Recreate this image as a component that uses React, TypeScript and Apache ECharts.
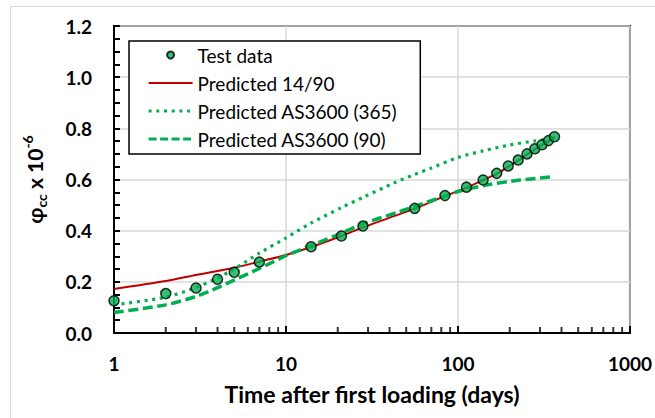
import React, { useEffect, useRef } from "react";
import * as echarts from "echarts";

const testDays = [1, 2, 3, 4, 5, 7, 14, 21, 28, 56, 84, 112, 140, 168, 196, 224, 252, 280, 308, 336, 364];
const testValues = [0.126, 0.154, 0.176, 0.21, 0.237, 0.277, 0.337, 0.379, 0.418, 0.487, 0.537, 0.57, 0.598, 0.624, 0.653, 0.676, 0.7, 0.72, 0.736, 0.752, 0.767];

const pred1490Days = [1, 2, 3, 5, 7, 10, 14, 21, 28, 56, 84, 112, 140, 168, 196, 224, 252, 280, 308, 336, 365];
const pred1490Values = [0.172, 0.203, 0.227, 0.255, 0.279, 0.305, 0.336, 0.379, 0.413, 0.486, 0.535, 0.568, 0.598, 0.622, 0.65, 0.674, 0.698, 0.718, 0.735, 0.75, 0.767];

const pred365Days = [1, 2, 3, 4, 5, 7, 10, 14, 21, 28, 42, 56, 70, 100, 140, 200, 280, 365];
const pred365Values = [0.11, 0.14, 0.178, 0.215, 0.25, 0.312, 0.372, 0.43, 0.49, 0.53, 0.585, 0.62, 0.645, 0.686, 0.712, 0.735, 0.751, 0.76];

const pred90Days = [1, 2, 3, 4, 5, 7, 10, 14, 21, 28, 46, 56, 84, 100, 146, 229, 365];
const pred90Values = [0.08, 0.11, 0.143, 0.177, 0.207, 0.252, 0.302, 0.342, 0.39, 0.427, 0.475, 0.495, 0.535, 0.553, 0.578, 0.598, 0.611];

const minorTickDays = [2, 3, 4, 5, 6, 7, 8, 9, 20, 30, 40, 50, 60, 70, 80, 90, 200, 300, 400, 500, 600, 700, 800, 900];

const seriesNames = ["Test data", "Predicted 14/90", "Predicted AS3600 (365)", "Predicted AS3600 (90)"];

const zip = (xs: number[], ys: number[]) => xs.map((x, i) => [x, ys[i]]);

const FONT = "Lato, 'Liberation Sans', sans-serif";
const GREEN = "#00b050";
const RED = "#c00000";
const DOTTED: number[] = [3, 4.7];
const DASHED: number[] = [10, 4.5];

export default function App() {
  const ref = useRef<HTMLDivElement>(null);
  useEffect(() => {
    if (!ref.current) return;
    const chart = echarts.init(ref.current, undefined, { renderer: "svg" });
    chart.setOption({
      animation: false,
      backgroundColor: "#ffffff",
      graphic: [
        {
          type: "rect",
          shape: { x: 10.5, y: 6.5, width: 700, height: 500 },
          style: { fill: "none", stroke: "#d9d9d9", lineWidth: 1 },
          z: -10,
        },
      ],
      grid: { left: 114, right: 21, top: 26, bottom: 85, show: true, borderColor: "#000", borderWidth: 2, backgroundColor: "transparent" },
      legend: {
        data: [
          { name: seriesNames[0] },
          { name: seriesNames[1], itemStyle: { opacity: 0 }, lineStyle: { width: 2, color: RED, type: "solid" } },
          { name: seriesNames[2], itemStyle: { opacity: 0 }, lineStyle: { width: 3.2, color: GREEN, type: DOTTED } },
          { name: seriesNames[3], itemStyle: { opacity: 0 }, lineStyle: { width: 3.2, color: GREEN, type: [8, 3.5] } },
        ],
        orient: "vertical",
        left: 129,
        top: 41,
        padding: [4, 23, 5, 18],
        itemWidth: 44,
        itemHeight: 7,
        itemGap: 8,
        borderColor: "#000",
        borderWidth: 1.5,
        backgroundColor: "#fff",
        textStyle: { fontFamily: FONT, fontSize: 19, color: "#000", lineHeight: 20 },
        selectedMode: false,
      },
      xAxis: {
        type: "log",
        logBase: 10,
        min: 1,
        max: 1000,
        name: "Time after first loading (days)",
        nameLocation: "middle",
        nameGap: 49,
        nameTextStyle: { fontFamily: FONT, fontSize: 23, fontWeight: "bold", color: "#000" },
        axisLine: { lineStyle: { color: "#000", width: 2 } },
        axisTick: { inside: true, length: 7, lineStyle: { color: "#000", width: 2 } },
        axisLabel: {
          fontFamily: FONT,
          fontSize: 19,
          fontWeight: "bold",
          color: "#000",
          margin: 21,
          formatter: (v: number) => String(Math.round(v)),
        },
        splitLine: { show: true, lineStyle: { color: "#d9d9d9", width: 1.5 } },
      },
      yAxis: {
        type: "value",
        min: 0,
        max: 1.2,
        interval: 0.2,
        name: "{a|φ}{b|cc}{a| x 10}{c|-6}",
        nameLocation: "middle",
        nameGap: 66,
        nameTextStyle: {
          rich: {
            a: { fontFamily: FONT, fontSize: 21, fontWeight: "bold", color: "#000", lineHeight: 28 },
            b: { fontFamily: FONT, fontSize: 14, fontWeight: "bold", color: "#000", lineHeight: 14, verticalAlign: "bottom" },
            c: { fontFamily: FONT, fontSize: 14, fontWeight: "bold", color: "#000", lineHeight: 14, verticalAlign: "top" },
          },
        },
        axisLine: { show: true, lineStyle: { color: "#000", width: 2 } },
        axisTick: { show: true, inside: true, length: 6, lineStyle: { color: "#000", width: 2 } },
        minorTick: { show: true, splitNumber: 4, length: 6, lineStyle: { color: "#000", width: 2 } },
        axisLabel: {
          fontFamily: FONT,
          fontSize: 19,
          fontWeight: "bold",
          color: "#000",
          margin: 22,
          formatter: (v: number) => v.toFixed(1),
        },
        splitLine: { show: true, lineStyle: { color: "#d9d9d9", width: 1.5 } },
      },
      series: [
        {
          name: "minor ticks",
          type: "scatter",
          data: minorTickDays.map((d) => [d, 0]),
          symbol: "rect",
          symbolSize: [2, 6],
          symbolOffset: [0, -3],
          itemStyle: { color: "#000" },
          clip: false,
          silent: true,
          z: 1,
        },
        {
          name: seriesNames[1],
          type: "line",
          data: zip(pred1490Days, pred1490Values),
          showSymbol: false,
          symbol: "none",
          smooth: 0.25,
          lineStyle: { color: RED, width: 2 },
          itemStyle: { color: RED },
          z: 3,
        },
        {
          name: seriesNames[2],
          type: "line",
          data: zip(pred365Days, pred365Values),
          showSymbol: false,
          symbol: "none",
          smooth: 0.25,
          lineStyle: { color: GREEN, width: 3.2, type: DOTTED },
          itemStyle: { color: GREEN },
          z: 3,
        },
        {
          name: seriesNames[3],
          type: "line",
          data: zip(pred90Days, pred90Values),
          showSymbol: false,
          symbol: "none",
          smooth: 0.25,
          lineStyle: { color: GREEN, width: 3.5, type: DASHED },
          itemStyle: { color: GREEN },
          z: 3,
        },
        {
          name: seriesNames[0],
          type: "scatter",
          data: zip(testDays, testValues),
          symbol: "circle",
          symbolSize: 10,
          itemStyle: { color: GREEN, borderColor: "#000", borderWidth: 1.5 },
          z: 5,
        },
      ],
    });
    return () => chart.dispose();
  }, []);
  return <div ref={ref} style={{ position: "fixed", left: 0, top: 0, width: 655, height: 418 }} />;
}
